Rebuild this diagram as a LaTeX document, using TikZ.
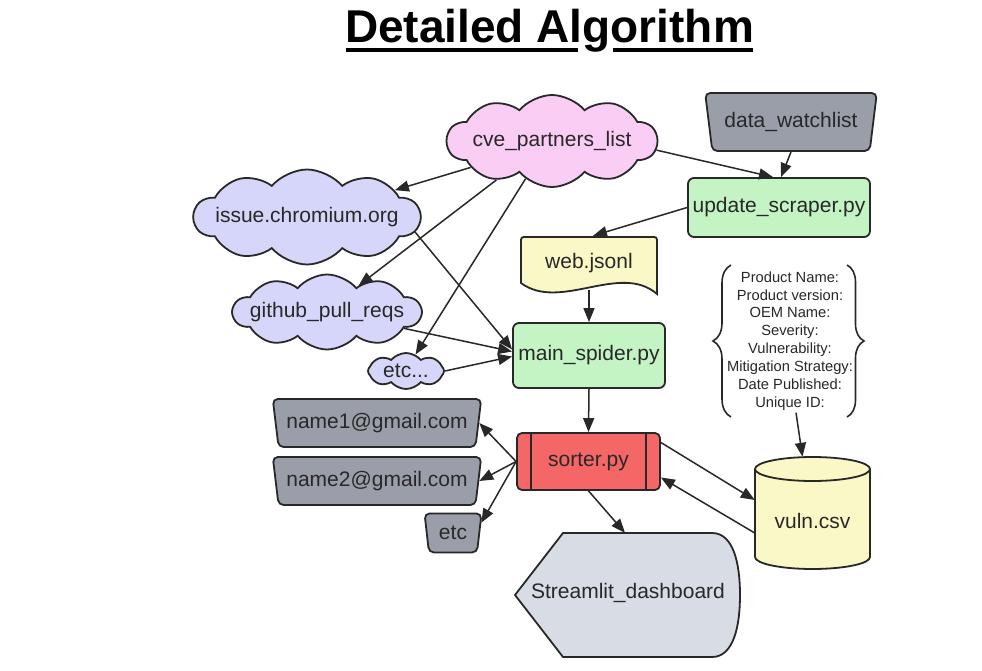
\documentclass[tikz,border=0pt]{standalone}
\usepackage{fontspec}
\setmainfont{Liberation Sans}
\usetikzlibrary{shapes.geometric,shapes.symbols,arrows.meta,calc,decorations.pathreplacing}
\definecolor{ink}{RGB}{40,40,40}
\definecolor{pinkfill}{RGB}{250,205,245}
\definecolor{lavfill}{RGB}{214,214,250}
\definecolor{greenfill}{RGB}{196,244,196}
\definecolor{yellowfill}{RGB}{250,248,198}
\definecolor{grayfill}{RGB}{154,158,168}
\definecolor{redfill}{RGB}{245,102,102}
\definecolor{dashfill}{RGB}{216,220,228}
\begin{document}
\begin{tikzpicture}[x=1pt,y=-1pt,
  every node/.style={text=ink,font=\fontsize{21}{25}\selectfont},
  shapeline/.style={draw=ink,line width=1.8pt},
  conn/.style={draw=ink,line width=1.5pt,-{Triangle[length=14pt,width=11pt]}},
  cloudbox/.style={cloud,cloud puffs=10,cloud puff arc=100,cloud ignores aspect,shapeline,inner sep=0pt},
  trapbox/.style={trapezium,shape border rotate=180,trapezium stretches=true,shapeline,fill=grayfill,rounded corners=5pt,inner sep=1pt},
  procbox/.style={rectangle,rounded corners=6pt,shapeline,fill=greenfill,inner sep=1pt}]
\useasboundingbox[fill=white] (0,0) rectangle (982,671);

% title
\node (title) [anchor=base,text=black,font=\fontsize{46}{55}\selectfont\bfseries,inner sep=0pt] at (549.5,43) {Detailed Algorithm};
\fill[black] (346,48) rectangle (578,52.5);
\fill[black] (613,48) rectangle (753,52.5);

% clouds
\node (cve) [cloudbox,fill=pinkfill,minimum width=210pt,minimum height=92pt] at (552,141) {};
\node at (cve) {cve\_partners\_list};
\node (issue) [cloudbox,fill=lavfill,minimum width=226pt,minimum height=95pt] at (307,217) {};
\node at (issue) {issue.chromium.org};
\node (github) [cloudbox,fill=lavfill,minimum width=188pt,minimum height=75pt] at (327,312) {};
\node at (github) {github\_pull\_reqs};
\node (etcc) [cloudbox,fill=lavfill,cloud puffs=8,minimum width=76pt,minimum height=36pt] at (406,371) {};
\node at (etcc) {etc...};

% trapezia
\node (data) [trapbox,minimum width=172pt,minimum height=58pt,trapezium left angle=74,trapezium right angle=74] at (791,122) {data\_watchlist};
\node (name1) [trapbox,minimum width=209pt,minimum height=48pt,trapezium left angle=76,trapezium right angle=76] at (377,423) {name1@gmail.com};
\node (name2) [trapbox,minimum width=209pt,minimum height=48pt,trapezium left angle=76,trapezium right angle=76] at (377,481) {name2@gmail.com};
\node (etc2) [trapbox,minimum width=57pt,minimum height=39pt,trapezium left angle=80,trapezium right angle=80] at (453,533) {etc};

% process boxes
\node (update) [procbox,minimum width=182pt,minimum height=59pt] at (779,207.5) {update\_scraper.py};
\node (main) [procbox,minimum width=152pt,minimum height=65pt] at (589,355.5) {main\_spider.py};
\node (sorter) [rectangle,rounded corners=5pt,shapeline,fill=redfill,minimum width=143pt,minimum height=57pt] at (588.5,461.5) {sorter.py};
\draw[shapeline] ([xshift=15pt]sorter.north west) -- ([xshift=15pt]sorter.south west);
\draw[shapeline] ([xshift=-15pt]sorter.north east) -- ([xshift=-15pt]sorter.south east);

% document shape
\path[shapeline,fill=yellowfill] (521,283) -- (521,243) .. controls (521,237) .. (527,237) -- (651,237) .. controls (657,237) .. (657,243) -- (657,294) .. controls (620,262) and (560,312) .. (521,283) -- cycle;
\node (web) [minimum width=136pt,minimum height=54pt] at (589,263) {web.jsonl};

% cylinder
\path[shapeline,fill=yellowfill] (755,469) -- (755,557) arc[start angle=180,end angle=360,x radius=57.5pt,y radius=12pt] -- (870,469) arc[start angle=0,end angle=180,x radius=57.5pt,y radius=12pt] -- cycle;
\draw[shapeline] (755,469) arc[start angle=180,end angle=360,x radius=57.5pt,y radius=12pt];
\node (vuln) [minimum width=115pt,minimum height=128pt] at (812.5,521) {vuln.csv};

% display shape
\path[shapeline,fill=dashfill] (515,595) -- (563,533) -- (712,533) .. controls (734,533) and (740,565) .. (740,595) .. controls (740,625) and (734,657) .. (712,657) -- (563,657) -- cycle;
\node (dash) [minimum width=225pt,minimum height=120pt] at (628,593) {Streamlit\_dashboard};

% field list with braces
\node (fields) [align=center,font=\fontsize{14.7}{17.9}\selectfont,inner sep=2pt] at (790,341) {Product Name:\\Product version:\\OEM Name:\\Severity:\\Vulnerability:\\Mitigation Strategy:\\Date Published:\\Unique ID:};
\draw[ink,line width=1.6pt,decorate,decoration={brace,amplitude=18pt}] (731,417) -- (731,265);
\draw[ink,line width=1.6pt,decorate,decoration={brace,amplitude=17pt}] (847,265) -- (847,417);

% connectors
\draw[conn] (cve.198) -- (issue.17);
\draw[conn] (cve.215) -- (github.40);
\draw[conn] (cve.235) -- (etcc.60);
\draw[conn] (cve.-5) -- ([xshift=-6pt]update.north);
\draw[conn] (data.south) -- ([xshift=2pt]update.north);
\draw[conn] (update.west) -- ([xshift=4pt]web.north);
\draw[conn] (web.south) -- (main.north);
\draw[conn] (issue.-8) -- ([yshift=6pt]main.west);
\draw[conn] (github.-12) -- ([yshift=4pt]main.west);
\draw[conn] (etcc.east) -- ([yshift=-1pt]main.west);
\draw[conn] (main.south) -- (sorter.north);
\draw[conn] (sorter.west) -- (name1.east);
\draw[conn] (sorter.west) -- (name2.east);
\draw[conn] (sorter.west) -- (etc2.20);
\draw[conn] (sorter.south) -- ([xshift=-3pt]dash.north);
\draw[conn] ([yshift=19pt]sorter.east) -- ([yshift=21pt]vuln.west);
\draw[conn] ([yshift=-12pt]vuln.west) -- ([yshift=-16pt]sorter.east);
\draw[conn] ([xshift=6pt]fields.south) -- ([xshift=-10pt]vuln.north);
\end{tikzpicture}
\end{document}
